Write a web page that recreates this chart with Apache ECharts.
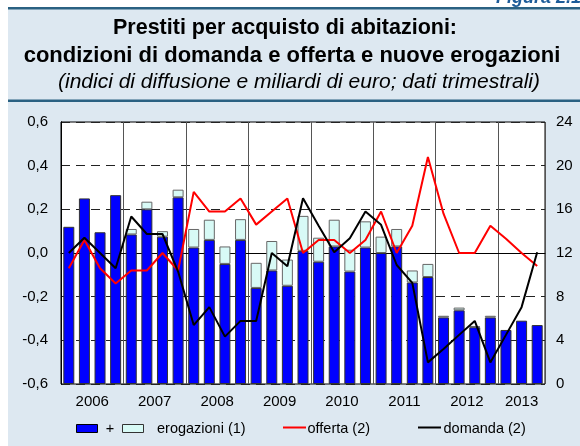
<!DOCTYPE html>
<html>
<head>
<meta charset="utf-8">
<script src="https://cdn.jsdelivr.net/npm/echarts@6/dist/echarts.min.js"></script>
<style>
html,body{margin:0;padding:0;background:#fff;}
#grafico{width:580px;height:446px;}
</style>
</head>
<body>
<div id="grafico"></div>
<script>
// trimestri 2006 T1 - 2013 T3
var trimestri = ['2006T1','2006T2','2006T3','2006T4','2007T1','2007T2','2007T3','2007T4',
  '2008T1','2008T2','2008T3','2008T4','2009T1','2009T2','2009T3','2009T4',
  '2010T1','2010T2','2010T3','2010T4','2011T1','2011T2','2011T3','2011T4',
  '2012T1','2012T2','2012T3','2012T4','2013T1','2013T2','2013T3'];
var anni = ['2006','2007','2008','2009','2010','2011','2012','2013'];

// erogazioni (miliardi, asse destro): parte blu + parte azzurra
var erogBlu = [14.4,17.0,13.9,17.3,13.7,16.0,13.5,17.1,
  12.5,13.2,11.0,13.2,8.8,10.4,9.0,12.2,
  11.2,12.6,10.3,12.5,12.0,12.6,9.3,9.8,
  6.1,6.75,5.2,6.1,4.95,5.8,5.4];
var erogAzzurro = [null,null,null,null,0.5,0.7,0.5,0.7,
  1.7,1.85,1.6,1.9,2.3,2.7,2.4,3.2,
  2.2,2.45,2.0,2.4,1.5,1.6,1.1,1.2,
  0.15,0.25,0.1,0.15,null,null,null];

// indici di diffusione (asse sinistro)
var offerta = [-0.07,0.06,-0.07,-0.14,-0.08,-0.08,0.0,-0.08,
  0.28,0.19,0.19,0.25,0.13,0.19,0.25,0.0,
  0.06,0.06,0.0,0.06,0.19,0.0,0.125,0.44,
  0.18,0.0,0.0,0.125,0.065,0.0,-0.06];
var domanda = [0.0,0.07,0.0,-0.07,0.167,0.087,0.087,-0.085,
  -0.33,-0.248,-0.383,-0.311,-0.311,0.0,-0.061,0.251,
  0.125,0.003,0.068,0.19,0.129,-0.055,-0.137,-0.501,
  -0.44,-0.375,-0.311,-0.501,-0.375,-0.248,0.003];

var font = 'Liberation Sans, Arial, sans-serif';

// etichette degli anni al centro di ogni blocco di trimestri
var posAnni = {};
var inizio = 0;
anni.forEach(function (a) {
  var n = trimestri.filter(function (t) { return t.indexOf(a) === 0; }).length;
  posAnni[(inizio + n / 2).toFixed(1)] = a;
  inizio += n;
});

var myChart = echarts.init(document.getElementById('grafico'));

var option = {
  backgroundColor: '#dde8f1',
  animation: false,
  grid: {
    left: 61, right: 35, top: 122, bottom: 62,
    show: true, backgroundColor: '#fff', borderColor: '#000', borderWidth: 1
  },
  xAxis: [{
    type: 'category',
    data: trimestri,
    boundaryGap: true,
    axisLine: { lineStyle: { color: '#000' } },
    axisTick: { inside: true, length: 4, interval: 0, lineStyle: { color: '#666' } },
    axisLabel: { show: false },
    splitLine: { show: false }
  }, {
    type: 'value', min: 0, max: trimestri.length, interval: 4,
    axisLine: { show: false }, axisTick: { show: false }, axisLabel: { show: false },
    splitLine: { show: true, lineStyle: { color: '#555', width: 1 } }
  }, {
    type: 'value', min: 0, max: trimestri.length, interval: 0.5,
    position: 'bottom',
    axisLine: { show: false }, axisTick: { show: false }, splitLine: { show: false },
    axisLabel: {
      margin: 10, color: '#000', fontSize: 15, fontFamily: font,
      formatter: function (v) { return posAnni[v.toFixed(1)] || ''; }
    }
  }],
  yAxis: [{
    type: 'value', min: -0.6, max: 0.6, interval: 0.2,
    axisLine: { show: true, lineStyle: { color: '#000' } },
    axisTick: { show: false },
    axisLabel: {
      margin: 13, color: '#000', fontSize: 15, fontFamily: font,
      formatter: function (v) { return v.toFixed(1).replace('.', ','); }
    },
    splitLine: { show: true, lineStyle: { color: '#222', type: [9, 6], width: 1 } }
  }, {
    type: 'value', min: 0, max: 24, interval: 4,
    axisLine: { show: true, lineStyle: { color: '#000' } },
    axisTick: { show: false },
    axisLabel: { margin: 11, color: '#000', fontSize: 15, fontFamily: font },
    splitLine: { show: false }
  }],
  series: [{
    name: 'erogazioni', type: 'bar', stack: 'erog', yAxisIndex: 1,
    barWidth: 11,
    itemStyle: { color: '#0000ff', borderColor: '#333', borderWidth: 1 },
    data: erogBlu
  }, {
    name: 'erogazioni2', type: 'bar', stack: 'erog', yAxisIndex: 1,
    barWidth: 11,
    itemStyle: { color: '#d8faf6', borderColor: '#666', borderWidth: 1 },
    data: erogAzzurro
  }, {
    name: 'offerta (2)', type: 'line', yAxisIndex: 0,
    symbol: 'none', lineStyle: { color: '#ff0000', width: 2 },
    data: offerta, z: 3
  }, {
    name: 'domanda (2)', type: 'line', yAxisIndex: 0,
    symbol: 'none', lineStyle: { color: '#000', width: 2 },
    data: domanda, z: 4
  }],
  graphic: [
    { type: 'rect', shape: { x: 0, y: 0, width: 8, height: 446 }, style: { fill: '#fff' } },
    { type: 'rect', shape: { x: 0, y: 0, width: 580, height: 7 }, style: { fill: '#fff' } },
    { type: 'text', x: 496, y: 7, style: { text: 'Figura 2.1', fill: '#1d5c99', font: 'italic bold 18px ' + font, textVerticalAlign: 'bottom' } },
    { type: 'rect', shape: { x: 8, y: 7, width: 572, height: 2.5 }, style: { fill: '#2a6182' } },
    { type: 'rect', shape: { x: 8, y: 99.5, width: 572, height: 2.5 }, style: { fill: '#2a6182' } },
    { type: 'text', x: 285, y: 28.5, style: { text: 'Prestiti per acquisto di abitazioni:', fill: '#000', font: 'bold 21.5px ' + font, textAlign: 'center', textVerticalAlign: 'middle' } },
    { type: 'text', x: 292, y: 55.5, style: { text: 'condizioni di domanda e offerta e nuove erogazioni', fill: '#000', font: 'bold 22px ' + font, textAlign: 'center', textVerticalAlign: 'middle' } },
    { type: 'text', x: 299, y: 82.5, style: { text: '(indici di diffusione e miliardi di euro; dati trimestrali)', fill: '#000', font: 'italic 21px ' + font, textAlign: 'center', textVerticalAlign: 'middle' } },
    // legenda
    { type: 'rect', shape: { x: 76.5, y: 424.5, width: 21, height: 8 }, style: { fill: '#0000ff', stroke: '#000', lineWidth: 1 } },
    { type: 'text', x: 110, y: 428.5, style: { text: '+', fill: '#000', font: '14.5px ' + font, textAlign: 'center', textVerticalAlign: 'middle' } },
    { type: 'rect', shape: { x: 122.5, y: 424.5, width: 21, height: 8 }, style: { fill: '#d8faf6', stroke: '#333', lineWidth: 1 } },
    { type: 'text', x: 157, y: 428.5, style: { text: 'erogazioni (1)', fill: '#000', font: '14.5px ' + font, textVerticalAlign: 'middle' } },
    { type: 'line', shape: { x1: 283, y1: 427.5, x2: 306, y2: 427.5 }, style: { stroke: '#ff0000', lineWidth: 2 } },
    { type: 'text', x: 307.5, y: 428.5, style: { text: 'offerta (2)', fill: '#000', font: '14.5px ' + font, textVerticalAlign: 'middle' } },
    { type: 'line', shape: { x1: 418, y1: 427.5, x2: 441, y2: 427.5 }, style: { stroke: '#000', lineWidth: 2 } },
    { type: 'text', x: 443.5, y: 428.5, style: { text: 'domanda (2)', fill: '#000', font: '14.5px ' + font, textVerticalAlign: 'middle' } }
  ]
};

myChart.setOption(option);
window.onresize = function () {
  myChart.resize();
};
</script>
</body>
</html>
